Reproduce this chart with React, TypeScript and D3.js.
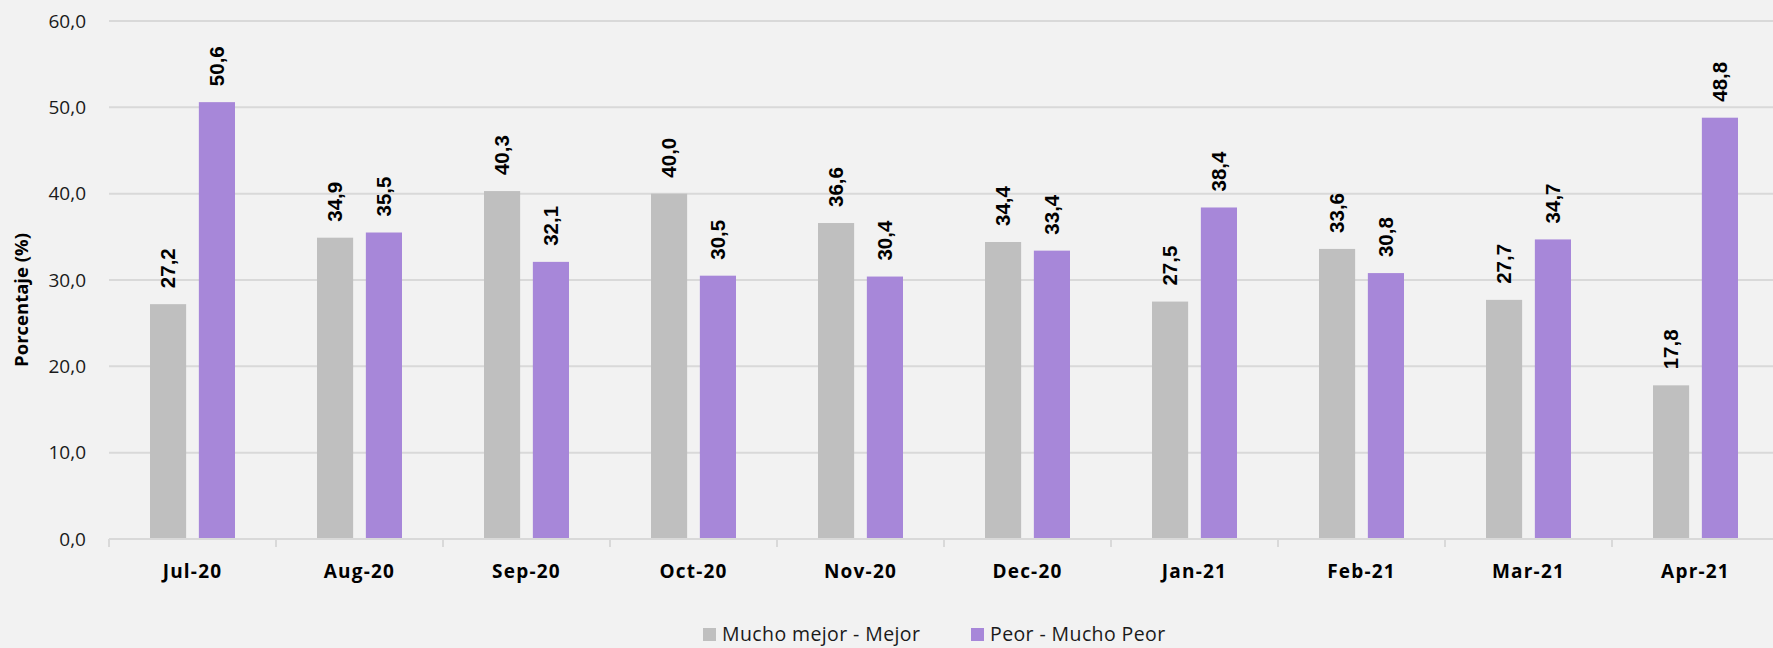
import { useEffect, useRef } from "react";
import * as d3 from "d3";

const categories = ["Jul-20", "Aug-20", "Sep-20", "Oct-20", "Nov-20", "Dec-20", "Jan-21", "Feb-21", "Mar-21", "Apr-21"];
const mejor = [27.2, 34.9, 40.3, 40.0, 36.6, 34.4, 27.5, 33.6, 27.7, 17.8];
const peor = [50.6, 35.5, 32.1, 30.5, 30.4, 33.4, 38.4, 30.8, 34.7, 48.8];
const yTicks = [0, 10, 20, 30, 40, 50, 60];
const seriesNames = ["Mucho mejor - Mejor", "Peor - Mucho Peor"];
const colors = ["#bfbfbf", "#a787d9"];

const W = 1773;
const H = 648;

export default function App() {
  const svgRef = useRef<SVGSVGElement>(null);

  useEffect(() => {
    if (!svgRef.current) return;
    const svg = d3.select(svgRef.current);
    svg.selectAll("*").remove();

    const left = 109;
    const right = 1779;
    const top = 21;
    const bottom = 539;

    svg.append("rect").attr("width", W).attr("height", H).attr("fill", "#f2f2f2");

    const x = d3.scaleBand().domain(categories).range([left, right]);
    const y = d3.scaleLinear().domain([0, 60]).range([bottom, top]);
    const inner = d3
      .scaleBand()
      .domain(["0", "1"])
      .range([41, x.bandwidth() - 41])
      .paddingInner(0.26);

    // grille
    svg
      .append("g")
      .selectAll("line")
      .data(yTicks.filter((d) => d > 0))
      .join("line")
      .attr("x1", left)
      .attr("x2", W)
      .attr("y1", (d) => y(d))
      .attr("y2", (d) => y(d))
      .attr("stroke", "#d9d9d9")
      .attr("stroke-width", 2);

    // labels axe Y
    svg
      .append("g")
      .selectAll("text")
      .data(yTicks)
      .join("text")
      .attr("x", 86)
      .attr("y", (d) => y(d))
      .attr("dy", "0.35em")
      .attr("text-anchor", "end")
      .style("font-family", "'Open Sans', 'Noto Sans', sans-serif")
      .style("font-size", "19px")
      .style("fill", "#1a1a1a")
      .text((d) => d.toFixed(1).replace(".", ","));

    // titre Y
    svg
      .append("text")
      .attr("transform", `translate(28,300) rotate(-90)`)
      .attr("text-anchor", "middle")
      .style("font-family", "'Open Sans', 'Noto Sans', sans-serif")
      .style("font-size", "18.5px")
      .style("font-weight", "bold")
      .style("fill", "#000")
      .text("Porcentaje (%)");

    // barres
    const series = [mejor, peor];
    series.forEach((vals, si) => {
      const g = svg.append("g");
      g.selectAll("rect")
        .data(vals)
        .join("rect")
        .attr("x", (_, i) => (x(categories[i]) || 0) + (inner(String(si)) || 0))
        .attr("width", inner.bandwidth())
        .attr("y", (d) => y(d))
        .attr("height", (d) => y(0) - y(d))
        .attr("fill", colors[si]);

      g.selectAll("text")
        .data(vals)
        .join("text")
        .attr("transform", (d, i) => {
          const cx = (x(categories[i]) || 0) + (inner(String(si)) || 0) + inner.bandwidth() / 2;
          return `translate(${cx + 7},${y(d) - 16}) rotate(-90)`;
        })
        .attr("text-anchor", "start")
        .style("font-family", "'Liberation Sans', Arial, sans-serif")
        .style("font-size", "20.5px")
        .style("font-weight", "bold")
        .style("fill", "#000")
        .text((d) => d.toFixed(1).replace(".", ","));
    });

    // axe X
    svg
      .append("line")
      .attr("x1", left)
      .attr("x2", W)
      .attr("y1", bottom)
      .attr("y2", bottom)
      .attr("stroke", "#d9d9d9")
      .attr("stroke-width", 2);

    svg
      .append("g")
      .selectAll("line")
      .data(categories)
      .join("line")
      .attr("x1", (d) => x(d) || 0)
      .attr("x2", (d) => x(d) || 0)
      .attr("y1", bottom)
      .attr("y2", bottom + 8)
      .attr("stroke", "#d9d9d9")
      .attr("stroke-width", 2);

    svg
      .append("g")
      .selectAll("text")
      .data(categories)
      .join("text")
      .attr("x", (d) => (x(d) || 0) + x.bandwidth() / 2)
      .attr("y", 578)
      .attr("text-anchor", "middle")
      .style("font-family", "'Open Sans', 'Noto Sans', sans-serif")
      .style("font-size", "19px")
      .style("font-weight", "bold")
      .style("letter-spacing", "1.2px")
      .style("fill", "#000")
      .text((d) => d);

    // légende
    const legendX = [703, 971];
    const lg = svg.append("g");
    seriesNames.forEach((name, i) => {
      lg.append("rect")
        .attr("x", legendX[i])
        .attr("y", 628)
        .attr("width", 13)
        .attr("height", 13)
        .attr("fill", colors[i]);
      lg.append("text")
        .attr("x", legendX[i] + 19)
        .attr("y", 634.5)
        .attr("dy", "0.35em")
        .style("font-family", "'Open Sans', 'Noto Sans', sans-serif")
        .style("font-size", "19.5px")
        .style("letter-spacing", "0.4px")
        .style("fill", "#1a1a1a")
        .text(name);
    });
  }, []);

  return (
    <div style={{ position: "absolute", left: 0, top: 0 }}>
      <svg ref={svgRef} width={W} height={H} style={{ display: "block" }} />
    </div>
  );
}
